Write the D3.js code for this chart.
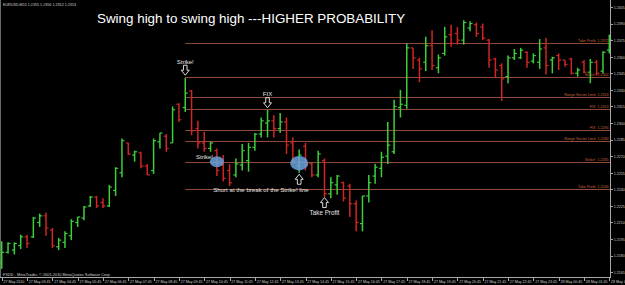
<!DOCTYPE html>
<meta charset="utf-8">
<style>
  body { margin: 0; background: #000; }
  svg { display: block; background: #000; }
  text { font-family: "Liberation Sans", Arial, sans-serif; }
  .axis path, .axis line { stroke: #a8a8a8; shape-rendering: crispEdges; }
  .axis text { fill: #cfcfcf; }
</style>
<body>
<div id="chart"></div>
<script src="https://d3js.org/d3.v7.min.js"></script>
<script>

// EURUSD M15 bars, 27 May 2010 02:45 -> 28 May 2010 02:45
var opens = [1.2174,1.2183,1.2185,1.2189,1.2197,1.2197,1.2210,1.2216,1.2203,1.2188,
             1.2192,1.2198,1.2210,1.2214,1.2225,1.2233,1.2228,1.2225,1.2239,1.2255,
             1.2282,1.2271,1.2273,1.2261,1.2257,1.2283,1.2288,1.2282,1.2317,1.2314,
             1.2329,1.2295,1.2282,1.2277,1.2275,1.2262,1.2257,1.2253,1.2262,1.2266,
             1.2278,1.2290,1.2300,1.2302,1.2295,1.2301,1.2282,1.2261,1.2279,1.2263,
             1.2253,1.2266,1.2236,1.2244,1.2246,1.2243,1.2227,1.2209,1.2234,1.2252,
             1.2259,1.2270,1.2274,1.2314,1.2316,1.2368,1.2357,1.2355,1.2370,1.2350,
             1.2363,1.2380,1.2381,1.2375,1.2386,1.2389,1.2387,1.2375,1.2358,1.2352,
             1.2342,1.2359,1.2359,1.2364,1.2356,1.2355,1.2368,1.2357,1.2361,1.2357,
             1.2358,1.2345,1.2355,1.2346,1.2355,1.2347,1.2366];
var highs = [1.2193,1.2192,1.2192,1.2199,1.2199,1.2215,1.2218,1.2219,1.2205,1.2196,
             1.2202,1.2213,1.2215,1.2225,1.2234,1.2234,1.2232,1.2244,1.2260,1.2286,
             1.2282,1.2275,1.2274,1.2263,1.2286,1.2291,1.2290,1.2315,1.2318,1.2341,
             1.2330,1.2302,1.2292,1.2283,1.2277,1.2271,1.2263,1.2268,1.2281,1.2282,
             1.2291,1.2305,1.2312,1.2307,1.2309,1.2305,1.2287,1.2276,1.2282,1.2264,
             1.2275,1.2268,1.2251,1.2253,1.2247,1.2245,1.2230,1.2234,1.2253,1.2263,
             1.2274,1.2301,1.2321,1.2330,1.2372,1.2368,1.2359,1.2378,1.2384,1.2362,
             1.2387,1.2389,1.2387,1.2393,1.2392,1.2391,1.2390,1.2376,1.2359,1.2354,
             1.2361,1.2367,1.2368,1.2365,1.2363,1.2376,1.2377,1.2360,1.2363,1.2357,
             1.2359,1.2350,1.2357,1.2358,1.2357,1.2365,1.2380];
var lows  = [1.2168,1.2182,1.2181,1.2186,1.2187,1.2196,1.2206,1.2198,1.2187,1.2185,
             1.2187,1.2194,1.2206,1.2212,1.2224,1.2223,1.2223,1.2224,1.2234,1.2251,
             1.2271,1.2265,1.2259,1.2253,1.2254,1.2277,1.2274,1.2282,1.2301,1.2310,
             1.2289,1.2277,1.2274,1.2274,1.2252,1.2247,1.2243,1.2251,1.2257,1.2256,
             1.2275,1.2287,1.2287,1.2287,1.2291,1.2272,1.2263,1.2255,1.2257,1.2251,
             1.2251,1.2233,1.2232,1.2235,1.2229,1.2215,1.2202,1.2202,1.2228,1.2245,
             1.2251,1.2263,1.2272,1.2305,1.2313,1.2349,1.2337,1.2347,1.2348,1.2345,
             1.2361,1.2369,1.2371,1.2371,1.2383,1.2378,1.2375,1.2350,1.2341,1.2320,
             1.2336,1.2357,1.2358,1.2350,1.2354,1.2349,1.2344,1.2345,1.2348,1.2351,
             1.2344,1.2342,1.2345,1.2336,1.2343,1.2345,1.2363];
var closes = [1.2183,1.2191,1.2191,1.2197,1.2191,1.2214,1.2216,1.2205,1.2189,1.2194,
              1.2200,1.2211,1.2215,1.2224,1.2233,1.2225,1.2225,1.2242,1.2259,1.2284,
              1.2272,1.2274,1.2261,1.2253,1.2284,1.2291,1.2277,1.2312,1.2303,1.2327,
              1.2293,1.2282,1.2277,1.2282,1.2257,1.2250,1.2246,1.2263,1.2275,1.2278,
              1.2290,1.2302,1.2302,1.2295,1.2301,1.2280,1.2266,1.2271,1.2262,1.2253,
              1.2272,1.2236,1.2246,1.2252,1.2232,1.2227,1.2210,1.2234,1.2246,1.2260,
              1.2269,1.2280,1.2315,1.2317,1.2368,1.2359,1.2349,1.2370,1.2352,1.2359,
              1.2378,1.2372,1.2375,1.2391,1.2390,1.2381,1.2377,1.2357,1.2348,1.2340,
              1.2359,1.2363,1.2366,1.2355,1.2361,1.2367,1.2352,1.2359,1.2357,1.2353,
              1.2345,1.2348,1.2346,1.2355,1.2345,1.2364,1.2375];

var priceTicks = [1.2405,1.2390,1.2375,1.2360,1.2345,1.2330,1.2315,1.2300,1.2285,
                  1.2270,1.2255,1.2240,1.2225,1.2210,1.2195,1.2180,1.2165];

var timeTickBars = d3.range(0, 97, 4);
var timeTickLabels = ["27 May 2010","27 May 03:45","27 May 04:45","27 May 05:45","27 May 06:45",
                      "27 May 07:45","27 May 08:45","27 May 09:45","27 May 10:45","27 May 11:45",
                      "27 May 12:45","27 May 13:45","27 May 14:45","27 May 15:45","27 May 16:45",
                      "27 May 17:45","27 May 18:45","27 May 19:45","27 May 20:45","27 May 21:45",
                      "27 May 22:45","27 May 23:45","28 May 00:45","28 May 01:45","28 May 02:45"];

var levelNames  = ["Take Profit","Strike!","Range Sector Limit","FIX","FIX",
                   "Range Sector Limit","Strike!","Take Profit"];
var levelPrices = [1.2372,1.2342,1.2324,1.2313,1.2294,1.2284,1.2265,1.2240];

var svg_dx = 625, svg_dy = 285,
    plot_right = 610.5, plot_bottom = 277.5;

var x = d3.scaleLinear().domain([0, 96]).range([1.7, 609.3]),
    y = d3.scaleLinear().domain([1.2165, 1.2405]).range([272.2, 7]);

var fmtPrice = d3.format(".4f");

var svg = d3.select("#chart")
            .append("svg")
            .attr("width", svg_dx)
            .attr("height", svg_dy);

// tiny texts: drawn at 10px and scaled down, so the browser's
// minimum font size does not blow them up
function tinyText(sel, tx, ty, size, anchor) {
    return sel.attr("x", 0).attr("y", 0).attr("dy", null)
              .attr("font-size", "10px")
              .attr("text-anchor", anchor || "start")
              .attr("transform", "translate(" + tx + "," + ty + ") scale(" + (size / 10) + ")");
}

// window frame
svg.append("line")
   .attr("x1", 0.5).attr("x2", 0.5).attr("y1", 0).attr("y2", plot_bottom)
   .attr("stroke", "#6a6a6a");

// level lines drawn from the Strike! bar
var levelStart = x(29);
var levels = svg.append("g");
levels.selectAll("line")
      .data(levelPrices)
      .enter()
      .append("line")
      .attr("x1", levelStart).attr("x2", plot_right)
      .attr("y1", d => Math.round(y(d)) + 0.5)
      .attr("y2", d => Math.round(y(d)) + 0.5)
      .attr("stroke", "#8e4c38")
      .attr("stroke-width", 1);

levels.selectAll(".lname")
      .data(levelPrices)
      .enter()
      .append("text")
      .attr("class", "lname")
      .attr("fill", "#c8663e")
      .each(function (d, i) {
          tinyText(d3.select(this), 595.5, Math.round(y(d)) - 0.6, 3.7, "end").text(levelNames[i]);
      });

levels.selectAll(".lprice")
      .data(levelPrices)
      .enter()
      .append("text")
      .attr("class", "lprice")
      .attr("fill", "#c8663e")
      .each(function (d) {
          tinyText(d3.select(this), 608.5, Math.round(y(d)) - 0.6, 3.6, "end").text(fmtPrice(d));
      });

// OHLC bars
var bars = svg.append("g")
              .selectAll("g")
              .data(d3.range(opens.length))
              .enter()
              .append("g")
              .attr("stroke", i => closes[i] >= opens[i] ? "#3ccf3c" : "#cf2525")
              .attr("stroke-width", 1.5);

bars.append("line")
    .attr("x1", i => x(i)).attr("x2", i => x(i))
    .attr("y1", i => y(highs[i])).attr("y2", i => y(lows[i]));
bars.append("line")
    .attr("x1", i => x(i) - 2.5).attr("x2", i => x(i))
    .attr("y1", i => y(opens[i])).attr("y2", i => y(opens[i]))
    .attr("stroke-width", 1.2);
bars.append("line")
    .attr("x1", i => x(i)).attr("x2", i => x(i) + 2.5)
    .attr("y1", i => y(closes[i])).attr("y2", i => y(closes[i]))
    .attr("stroke-width", 1.2);

// axes
var axis_y = d3.axisRight(y).tickValues(priceTicks).tickSize(2.5).tickPadding(1)
               .tickFormat(fmtPrice);
svg.append("g")
   .attr("class", "axis")
   .attr("transform", "translate(" + plot_right + ",0)")
   .call(axis_y)
   .call(g => g.select(".domain").attr("d", "M0,0V" + plot_bottom))
   .call(g => g.selectAll(".tick text").each(function () {
       tinyText(d3.select(this), 3.2, 1.3, 3.6, "start");
   }));

var axis_x = d3.axisBottom(x).tickValues(timeTickBars).tickSize(3).tickPadding(0)
               .tickFormat((d, i) => timeTickLabels[i]);
svg.append("g")
   .attr("class", "axis")
   .attr("transform", "translate(0," + plot_bottom + ")")
   .call(axis_x)
   .call(g => g.select(".domain").attr("d", "M0,0H" + plot_right))
   .call(g => g.selectAll(".tick text").each(function () {
       tinyText(d3.select(this), 1.3, 5.6, 3.6, "start");
   }));

// header / footer texts
tinyText(svg.append("text"), 3, 5.8, 3.7)
   .attr("fill", "#d0d0d0")
   .text("EURUSD,M15  1.2355 1.2356 1.2352 1.2353");

tinyText(svg.append("text"), 3, 275.6, 3.9)
   .attr("fill", "#d0d0d0")
   .text("FXDD - MetaTrader, \u00a9 2001-2010 MetaQuotes Software Corp.");

svg.append("text")
   .attr("x", 97).attr("y", 23)
   .attr("font-size", "13.4px").attr("fill", "#ffffff")
   .text("Swing high to swing high ---HIGHER PROBABILITY");

// annotations
function arrowPath(cx, top, down) {
    var s = down ? 1 : -1, base = down ? top : top + 10;
    return "M" + (cx - 1.8) + "," + base +
           "L" + (cx + 1.8) + "," + base +
           "L" + (cx + 1.8) + "," + (base + s * 5) +
           "L" + (cx + 4) + "," + (base + s * 5) +
           "L" + cx + "," + (base + s * 10) +
           "L" + (cx - 4) + "," + (base + s * 5) +
           "L" + (cx - 1.8) + "," + (base + s * 5) + "Z";
}

var notes = svg.append("g");

// ellipses over the break of the Strike! line
notes.append("ellipse")
     .attr("cx", x(34)).attr("cy", y(levelPrices[6]))
     .attr("rx", 7).attr("ry", 5.5)
     .attr("fill", "#6aa2dc").attr("opacity", 0.85);
notes.append("ellipse")
     .attr("cx", x(47)).attr("cy", y(levelPrices[6]) + 1.5)
     .attr("rx", 9).attr("ry", 7.2)
     .attr("fill", "#6aa2dc").attr("opacity", 0.85);

var arrows = [
    {bar: 29, top: y(highs[29]) - 12.5, down: true},
    {bar: 42, top: y(highs[42]) - 12, down: true},
    {bar: 47, top: y(lows[47]) + 1.5, down: false},
    {bar: 51, top: y(lows[51]) + 0.5, down: false}
];
notes.selectAll("path")
     .data(arrows)
     .enter()
     .append("path")
     .attr("d", d => arrowPath(x(d.bar), d.top, d.down))
     .attr("fill", "none")
     .attr("stroke", "#f0f0f0")
     .attr("stroke-width", 0.9);

var noteFill = "#e6e6e6";
tinyText(notes.append("text"), x(29), y(highs[29]) - 14, 6, "middle")
     .attr("fill", noteFill).text("Strike!");
tinyText(notes.append("text"), x(42), y(highs[42]) - 14, 6, "middle")
     .attr("fill", noteFill).text("FIX");
tinyText(notes.append("text"), 213, 159, 6, "end")
     .attr("fill", noteFill).text("Strike!");
tinyText(notes.append("text"), 261, 192, 6.1, "middle")
     .attr("fill", noteFill).text("Short at the break of the Strike! line");
tinyText(notes.append("text"), x(51), 215, 6.3, "middle")
     .attr("fill", noteFill).text("Take Profit");

</script>
</body>
